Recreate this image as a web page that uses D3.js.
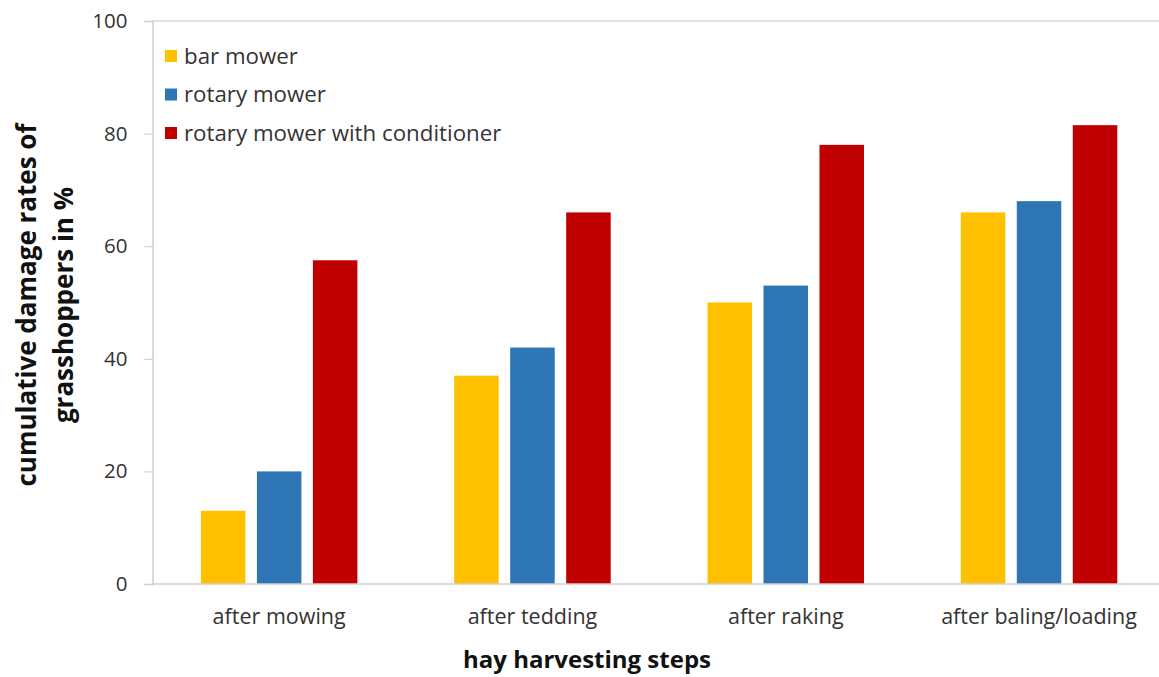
<!DOCTYPE html>
<html><head><meta charset="utf-8">
<script src="https://cdn.jsdelivr.net/npm/d3@7/dist/d3.min.js"></script>
<style>body{margin:0;background:#fff}</style>
</head><body>
<svg id="c" width="1159" height="677"></svg>
<script>
const categories = ["after mowing","after tedding","after raking","after baling/loading"];
const seriesNames = ["bar mower","rotary mower","rotary mower with conditioner"];
const barMower = [13,37,50,66];
const rotaryMower = [20,42,53,68];
const rotaryConditioner = [57.5,66,78,81.5];
const yTicks = [0,20,40,60,80,100];
const colors = ["#FFC000","#2E75B6","#C00000"];

const series = [barMower, rotaryMower, rotaryConditioner];
const svg = d3.select("#c");
const font = "'Open Sans', sans-serif";
const pLeft = 152.5, pRight = 1165.7, pTop = 21, pBottom = 584;

const x0 = d3.scaleBand().domain(categories).range([pLeft, pRight]).paddingInner(0).paddingOuter(0);
const x1 = d3.scaleBand().domain(seriesNames).range([48.4, x0.bandwidth()-48.4]).paddingInner(0.205).paddingOuter(0);
const y = d3.scaleLinear().domain([0,100]).range([pBottom, pTop]);

// top line
svg.append("line").attr("x1", pLeft).attr("x2", 1159).attr("y1", y(100)).attr("y2", y(100))
  .attr("stroke","#d9d9d9").attr("stroke-width",1.5);

// bars
categories.forEach((c,i)=>{
  const g = svg.append("g").attr("transform",`translate(${x0(c)},0)`);
  seriesNames.forEach((s,j)=>{
    g.append("rect").attr("x", x1(s)).attr("width", x1.bandwidth())
      .attr("y", y(series[j][i])).attr("height", y(0)-y(series[j][i]))
      .attr("fill", colors[j]);
  });
});

// y axis
const ya = svg.append("g").attr("transform",`translate(${pLeft},0)`)
  .call(d3.axisLeft(y).tickValues(yTicks).tickSize(8).tickPadding(17));
ya.select(".domain").attr("stroke","#d0d0d0").attr("stroke-width",1.5);
ya.selectAll(".tick line").attr("stroke","#d0d0d0").attr("stroke-width",1.2);
ya.selectAll("text").attr("font-family",font).attr("font-size",20.5).attr("fill","#333");

// x axis
const xa = svg.append("g").attr("transform",`translate(0,${pBottom})`)
  .call(d3.axisBottom(x0).tickSize(0).tickPadding(25));
xa.select(".domain").attr("stroke","#d0d0d0").attr("stroke-width",1.5).attr("d",`M${pLeft},0H1159`);
xa.selectAll("text").attr("font-family",font).attr("font-size",21.5).attr("fill","#333");

// axis titles
svg.append("text").attr("x",587).attr("y",668).attr("text-anchor","middle")
  .attr("font-family",font).attr("font-weight","bold").attr("font-size",24).attr("fill","#111")
  .text("hay harvesting steps");
const yt = svg.append("text").attr("transform","translate(0,305) rotate(-90)")
  .attr("text-anchor","middle").attr("font-family",font).attr("font-weight","bold")
  .attr("font-size",26).attr("fill","#111");
yt.append("tspan").attr("x",0).attr("y",36).text("cumulative damage rates of");
yt.append("tspan").attr("x",0).attr("y",73).text("grasshoppers in %");

// legend
const lg = svg.append("g");
seriesNames.forEach((s,j)=>{
  const yy = 56 + j*38.5;
  lg.append("rect").attr("x",165).attr("y",yy-6).attr("width",12).attr("height",12).attr("fill",colors[j]);
  lg.append("text").attr("x",184).attr("y",yy).attr("dy","0.35em")
    .attr("font-family",font).attr("font-size",22.3).attr("fill","#333").text(s);
});
</script>
</body></html>
